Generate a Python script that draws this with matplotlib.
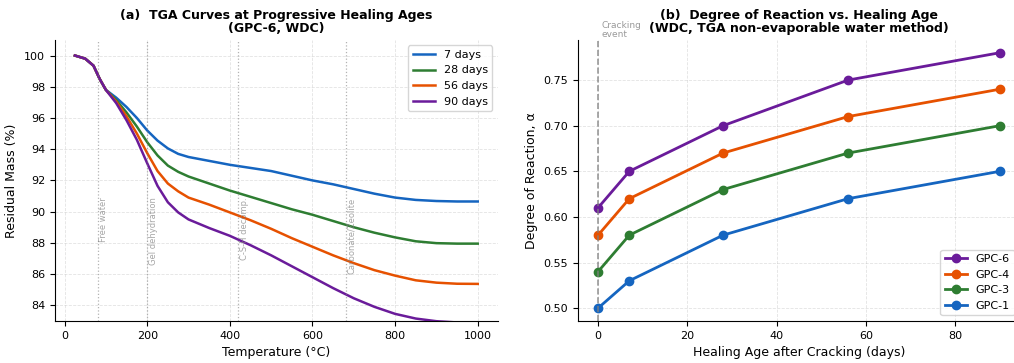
import matplotlib
matplotlib.use("Agg")
import matplotlib.pyplot as plt

# ---- panel (a) data: TGA residual mass
temps = [25, 50, 70, 85, 100, 125, 150, 175, 200, 225, 250, 275, 300, 350,
         400, 450, 500, 550, 600, 650, 700, 750, 800, 850, 900, 950, 1000]
mass_7d = [100.0, 99.8, 99.35, 98.5, 97.8, 97.3, 96.7, 96.0, 95.2, 94.55, 94.05, 93.7, 93.5, 93.25,
           93.0, 92.8, 92.6, 92.3, 92.0, 91.75, 91.45, 91.15, 90.9, 90.75, 90.68, 90.65, 90.65]
mass_28d = [100.0, 99.8, 99.35, 98.5, 97.8, 97.15, 96.35, 95.45, 94.45, 93.6, 92.95, 92.55, 92.25, 91.8,
            91.35, 90.95, 90.55, 90.15, 89.8, 89.4, 89.0, 88.65, 88.35, 88.1, 87.98, 87.95, 87.95]
mass_56d = [100.0, 99.8, 99.35, 98.5, 97.8, 97.05, 96.1, 95.0, 93.75, 92.6, 91.8, 91.3, 90.9, 90.45,
            89.95, 89.45, 88.9, 88.3, 87.75, 87.2, 86.7, 86.25, 85.9, 85.6, 85.45, 85.38, 85.37]
mass_90d = [100.0, 99.8, 99.35, 98.5, 97.8, 96.95, 95.85, 94.6, 93.1, 91.65, 90.6, 89.95, 89.5, 88.95,
            88.45, 87.85, 87.2, 86.5, 85.8, 85.1, 84.45, 83.9, 83.45, 83.15, 82.98, 82.9, 82.88]
age_labels = ["7 days", "28 days", "56 days", "90 days"]

# decomposition zones marked on panel (a)
zone_temps = [80, 200, 420, 680]
zone_labels = ["Free water", "Gel dehydration", "C-S-H decomp.", "Carbonate/Zeolite"]

# ---- panel (b) data: degree of reaction
days = [0, 7, 28, 56, 90]
alpha_gpc6 = [0.61, 0.65, 0.70, 0.75, 0.78]
alpha_gpc4 = [0.58, 0.62, 0.67, 0.71, 0.74]
alpha_gpc3 = [0.54, 0.58, 0.63, 0.67, 0.70]
alpha_gpc1 = [0.50, 0.53, 0.58, 0.62, 0.65]
mix_labels = ["GPC-6", "GPC-4", "GPC-3", "GPC-1"]

blue, green, orange, purple = "#1565c0", "#2e7d32", "#e65100", "#6a1b9a"

fig = plt.figure(figsize=(10.14, 3.63), dpi=100)
ax1 = fig.add_axes([0.054, 0.116, 0.437, 0.774])
ax2 = fig.add_axes([0.570, 0.116, 0.436, 0.774])

# panel (a)
for y, lab, c in zip([mass_7d, mass_28d, mass_56d, mass_90d], age_labels,
                     [blue, green, orange, purple]):
    ax1.plot(temps, y, color=c, lw=1.8, label=lab)

for t, lab in zip(zone_temps, zone_labels):
    ax1.axvline(t, color="gray", ls=":", lw=0.9, alpha=0.6)
    ax1.text(t + 15, 90.9, lab, rotation=90, fontsize=6, color="gray", alpha=0.7,
             ha="center", va="top")

ax1.set_ylim(83, 101)
ax1.set_xticks([0, 200, 400, 600, 800, 1000])
ax1.set_yticks(range(84, 101, 2))
ax1.set_xlabel("Temperature (°C)", fontsize=9)
ax1.set_ylabel("Residual Mass (%)", fontsize=9)
ax1.set_title("(a)  TGA Curves at Progressive Healing Ages\n(GPC-6, WDC)",
              fontsize=9, fontweight="bold", linespacing=1.0)
ax1.legend(loc="upper right", fontsize=8)

# panel (b)
for y, lab, c in zip([alpha_gpc6, alpha_gpc4, alpha_gpc3, alpha_gpc1], mix_labels,
                     [purple, orange, green, blue]):
    ax2.plot(days, y, "o-", color=c, lw=2, ms=6, label=lab)

ax2.axvline(0, color="gray", ls="--", lw=1.2, alpha=0.8)
ax2.text(0.8, 0.7955, "Cracking\nevent", fontsize=6.5, color="gray", alpha=0.8,
         ha="left", va="bottom", linespacing=1.0)

ax2.set_yticks([0.50, 0.55, 0.60, 0.65, 0.70, 0.75])
ax2.yaxis.set_major_formatter(plt.FormatStrFormatter("%.2f"))
ax2.set_xlabel("Healing Age after Cracking (days)", fontsize=9)
ax2.set_ylabel("Degree of Reaction, α", fontsize=9)
ax2.set_title("(b)  Degree of Reaction vs. Healing Age\n(WDC, TGA non-evaporable water method)",
              fontsize=9, fontweight="bold", linespacing=1.0)
ax2.legend(loc="lower right", fontsize=8)

for ax in (ax1, ax2):
    ax.grid(True, ls="--", lw=0.6, alpha=0.35)
    ax.spines["top"].set_visible(False)
    ax.spines["right"].set_visible(False)
    ax.tick_params(labelsize=8)

fig.savefig("out.png", dpi=100)
